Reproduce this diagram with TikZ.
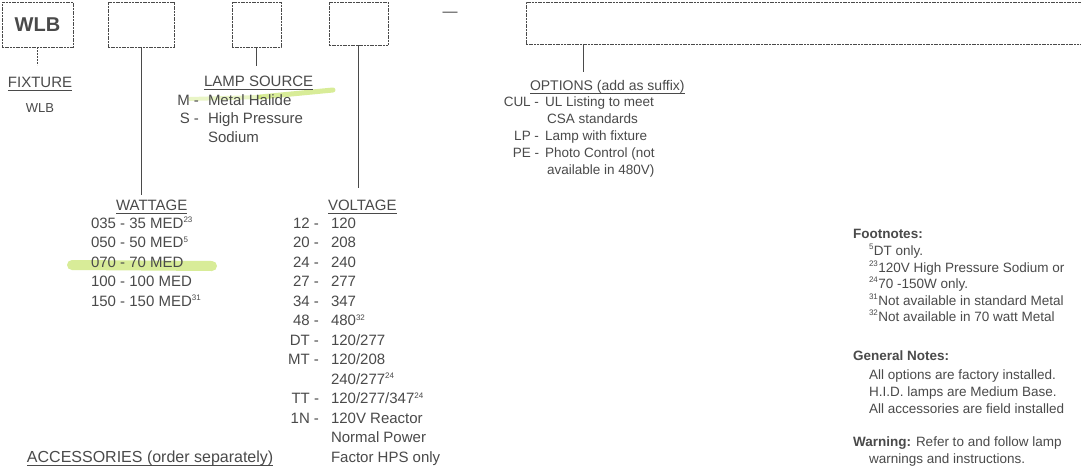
\documentclass[tikz,border=0pt]{standalone}
\usepackage{fontspec}
\setmainfont{Liberation Sans}
\definecolor{ink}{HTML}{4A4A4A}
\definecolor{hl}{HTML}{B8DE45}
\newcommand{\sps}[1]{\textsuperscript{\fontsize{8}{8}\selectfont #1}}
\begin{document}
\begin{tikzpicture}[x=1pt,y=-1pt,
  every node/.style={inner sep=0pt,outer sep=0pt,text=ink},
  codebox/.style={draw=ink,line width=1pt,dash pattern=on 2pt off 0.7pt,anchor=north west},
  stem/.style={draw=ink,line width=1pt},
  ulline/.style={draw=ink,line width=0.8pt},
  head/.style={font=\fontsize{15}{15}\selectfont,anchor=base west},
  itm/.style={font=\fontsize{15}{15}\selectfont,anchor=base west},
  code/.style={font=\fontsize{15}{15}\selectfont,anchor=base east},
  oitm/.style={font=\fontsize{13.5}{13.5}\selectfont,anchor=base west},
  ocode/.style={font=\fontsize{13.5}{13.5}\selectfont,anchor=base east},
  fn/.style={font=\fontsize{13.5}{13.5}\selectfont,anchor=base west},
  hilite/.style={draw=hl,line cap=round,opacity=0.55}]
\useasboundingbox (0,0) rectangle (1081,469);
\fill[white] (0,0) rectangle (1081,469);
\clip (0,0) rectangle (1081,469);

% highlights (behind text)
\draw[hilite,line width=10pt] (72,265) -- (212,266);
\draw[hilite,line width=4pt,opacity=0.3] (190,99) -- (260,97);
\draw[hilite,line width=5pt] (260,97) -- (333,90);

% boxes
\node[codebox,minimum width=71pt,minimum height=45pt] (fix) at (2,2) {\fontsize{20}{20}\selectfont\bfseries WLB};
\node[codebox,minimum width=66pt,minimum height=45pt] (b2) at (108,2) {};
\node[codebox,minimum width=49pt,minimum height=45pt] (b3) at (232,2) {};
\node[codebox,minimum width=59pt,minimum height=43pt] (b4) at (329,2) {};
\node[codebox,minimum width=600pt,minimum height=42pt] (b5) at (526,2) {};
\node[font=\fontsize{15}{15}\selectfont] (sep) at (450,14) {---};

% stem ends
\coordinate (s1) at (37.5,65);
\coordinate (s2) at (141,195);
\coordinate (s3) at (256.5,66);
\coordinate (s4) at (358.5,188);
\coordinate (s5) at (583,72);
\draw[stem,dash pattern=on 2pt off 1pt] (fix.south) -- (s1);
\draw[stem] (b2.south) -- (s2);
\draw[stem] (b3.south) -- (s3);
\draw[stem] (b4.south) -- (s4);
\draw[stem] (s5 |- b5.south) -- (s5);

% FIXTURE
\node[head,anchor=base] (hfix) at (40,87) {FIXTURE};
\draw[ulline] ([yshift=-3pt]hfix.base west) -- ([yshift=-3pt]hfix.base east);
\node[font=\fontsize{13}{13}\selectfont,anchor=base] (wlb) at (40,112) {WLB};

% LAMP SOURCE
\node[head] (hlamp) at (204,86) {LAMP SOURCE};
\draw[ulline] ([yshift=-3pt]hlamp.base west) -- ([yshift=-3pt]hlamp.base east);
\node[code] (lc1) at (199,105) {M -};
\node[itm] (lv1) at (208,105) {Metal Halide};
\node[code] (lc2) at (199,123) {S -};
\node[itm] (lv2) at (208,123) {High Pressure};
\node[itm] (lv3) at (208,142) {Sodium};

% OPTIONS
\node[head,font=\fontsize{14}{14}\selectfont] (hopt) at (530,90) {OPTIONS (add as suffix)};
\draw[ulline] ([yshift=-3pt]hopt.base west) -- ([yshift=-3pt]hopt.base east);
\node[ocode] (oc1) at (539,106) {CUL -};
\node[oitm] (ov1) at (545,106) {UL Listing to meet};
\node[oitm] (ov2) at (547,123) {CSA standards};
\node[ocode] (oc3) at (539,140) {LP -};
\node[oitm] (ov3) at (545,140) {Lamp with fixture};
\node[ocode] (oc4) at (539,157) {PE -};
\node[oitm] (ov4) at (545,157) {Photo Control (not};
\node[oitm] (ov5) at (547,174) {available in 480V)};

% WATTAGE
\node[head] (hwat) at (116,210) {WATTAGE};
\draw[ulline] ([yshift=-3pt]hwat.base west) -- ([yshift=-3pt]hwat.base east);
\node[itm] (w1) at (91,228) {035 - 35 MED\sps{23}};
\node[itm] (w2) at (91,247.5) {050 - 50 MED\sps{5}};
\node[itm] (w3) at (91,267) {070 - 70 MED};
\node[itm] (w4) at (91,286.5) {100 - 100 MED};
\node[itm] (w5) at (91,306) {150 - 150 MED\sps{31}};

% VOLTAGE
\node[head] (hvol) at (328,210) {VOLTAGE};
\draw[ulline] ([yshift=-3pt]hvol.base west) -- ([yshift=-3pt]hvol.base east);
\node[code] (vc1) at (319,228) {12 -};     \node[itm] (vv1) at (331,228) {120};
\node[code] (vc2) at (319,247.5) {20 -};   \node[itm] (vv2) at (331,247.5) {208};
\node[code] (vc3) at (319,267) {24 -};     \node[itm] (vv3) at (331,267) {240};
\node[code] (vc4) at (319,286.5) {27 -};   \node[itm] (vv4) at (331,286.5) {277};
\node[code] (vc5) at (319,306) {34 -};     \node[itm] (vv5) at (331,306) {347};
\node[code] (vc6) at (319,325.5) {48 -};   \node[itm] (vv6) at (331,325.5) {480\sps{32}};
\node[code] (vc7) at (319,345) {DT -};     \node[itm] (vv7) at (331,345) {120/277};
\node[code] (vc8) at (319,364.5) {MT -};   \node[itm] (vv8) at (331,364.5) {120/208};
\node[itm] (vv9) at (331,384) {240/277\sps{24}};
\node[code] (vc10) at (319,403.5) {TT -};  \node[itm] (vv10) at (331,403.5) {120/277/347\sps{24}};
\node[code] (vc11) at (319,423) {1N -};    \node[itm] (vv11) at (331,423) {120V Reactor};
\node[itm] (vv12) at (331,442.5) {Normal Power};
\node[itm] (vv13) at (331,462) {Factor HPS only};

% ACCESSORIES
\node[head,font=\fontsize{16}{16}\selectfont] (hacc) at (27,462) {ACCESSORIES (order separately)};
\draw[ulline] ([yshift=-3pt]hacc.base west) -- ([yshift=-3pt]hacc.base east);

% Notes
\node[fn] (fnh) at (853,238) {\bfseries Footnotes:};
\node[fn] (fn1) at (869,255) {\sps{5}DT only.};
\node[fn] (fn2) at (869,272) {\sps{23}120V High Pressure Sodium or};
\node[fn] (fn3) at (869,288) {\sps{24}70 -150W only.};
\node[fn] (fn4) at (869,305) {\sps{31}Not available in standard Metal};
\node[fn] (fn5) at (869,321) {\sps{32}Not available in 70 watt Metal};
\node[fn] (gnh) at (853,360) {\bfseries General Notes:};
\node[fn] (gn1) at (869,379) {All options are factory installed.};
\node[fn] (gn2) at (869,396) {H.I.D. lamps are Medium Base.};
\node[fn] (gn3) at (869,413) {All accessories are field installed};
\node[fn] (wn1) at (853,446) {\textbf{Warning:} Refer to and follow lamp};
\node[fn] (wn2) at (869,463) {warnings and instructions.};
\end{tikzpicture}
\end{document}
